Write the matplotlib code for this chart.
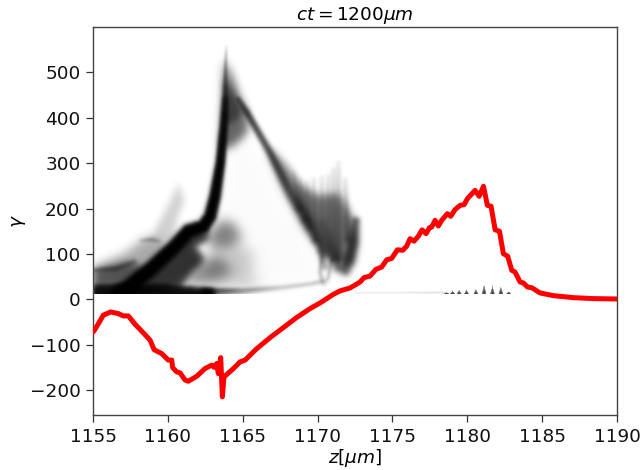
import numpy as np
import matplotlib
matplotlib.use("Agg")
import matplotlib.pyplot as plt
from matplotlib.path import Path

# Wakefield (red) curve
wake_z = [1155.0,1155.07,1155.36,1155.69,1156.18,1156.69,1157.03,1157.36,1157.81,1158.36,1158.81,1159.08,1159.37,1159.59,1160.03,1160.26,1160.32,1160.59,1160.81,1161.15,1161.37,1161.93,1162.48,1162.93,1163.09,1163.26,1163.37,1163.53,1163.64,1163.75,1164.38,1164.82,1165.16,1165.94,1166.83,1167.49,1168.61,1169.5,1170.17,1171.06,1171.5,1172.17,1172.84,1173.1,1173.5,1173.9,1174.28,1174.62,1174.95,1175.33,1175.69,1175.95,1176.18,1176.44,1176.73,1176.98,1177.25,1177.47,1177.62,1177.85,1178.07,1178.29,1178.67,1178.89,1179.18,1179.52,1179.79,1180.01,1180.52,1180.79,1181.08,1181.34,1181.59,1181.86,1182.15,1182.41,1182.7,1182.97,1183.19,1183.53,1183.75,1184.02,1184.31,1184.86,1185.75,1187.09,1188.43,1190.0]
wake_g = [-72,-69.8,-53.6,-35,-27.9,-31.5,-36.7,-36.7,-55,-74,-90,-110.9,-116,-119.7,-134,-134,-150.5,-160,-162,-178,-180.6,-169.6,-152.7,-145,-150,-141.6,-163.7,-128.5,-215,-171,-152.7,-138,-134,-108.7,-84.4,-68,-40,-20.5,-8,11,18.4,25,38,47.7,51,66,71,87,90,109,108,117,133.6,128,139,153,144.6,157.8,159,174,161.5,174,188.7,182.8,197.5,207,208.5,221.7,240,226.9,249,207,205,153,150,100.6,94.7,63.9,60,38,36,27,25.5,14,8,3.6,1.5,0.7]

# Ridges of the electron phase space: z, gamma, sigma (px), strength
ridge_main = ([1156.8,1157.34,1158.79,1160.35,1161.35,1162.35,1162.8,1163.13,1163.49,1163.75,1163.82],
              [12,25,64,112,148,159,181,225,299,390,440],[4.5,4,3.8,3.6,3.6,3.4,3.2,3,2.6,2.4,2.0],[3,3,3,3,3,3,2.8,2.6,2.2,1.5,1.0])
ridge_tip = ([1163.82,1163.85,1163.9],[450,525,558],[1.8,1,.6],[.6,.25,.07])
ridge_right = ([1164.7,1165.27,1166.83,1168.16,1169.28,1170.17,1170.5],
               [440,410,321,233,170,115,70],[1.6,2.2,2.4,3.2,3.6,3.2,2.5],[.35,.7,.6,.42,.38,.32,.2])
ridge_arc = ([1172.55,1172.39,1172.1,1171.84,1171.4,1171.0,1170.72,1170.3],
             [170,123,85,64,70,100,130,165],[3,3.5,4,4,4,4,4,4],[.45,.6,.65,.5,.35,.2,.12,.08])
ridge_loop = ([1170.28,1170.17,1170.4,1170.7,1170.95],[93,56,34,45,86],[1.5,1.5,2,1.5,1.5],[.22,.16,.12,.14,.16])
ridge_band = ([1162.5,1163.5,1165.0,1167.5,1169.5,1170.3],[15,16,17,24,32,38],[2.5,2.2,2,1.8,1.5,1.5],[1.0,.6,.28,.13,.13,.14])
ridge_band2 = ([1155.0,1156.5,1157.7],[62,66,80],[1.5,2,2],[.25,.3,.2])
ridge_hump = ([1158.2,1158.9,1159.4],[128,130,126],[1.5,1.5,1.5],[.1,.22,.1])
ridges = [ridge_main, ridge_tip, ridge_right, ridge_arc, ridge_loop, ridge_band, ridge_band2, ridge_hump]

# Fingers on the right-hand wing
finger_tip_z = [1168.39,1168.83,1169.28,1169.72,1170.28,1170.72,1171.06,1171.39,1171.84]
finger_tip_g = [277,262,255,262,266,269,284,299,262]
finger_base_z = [1168.8,1169.2,1169.5,1169.9,1170.3,1170.7,1171.1,1171.45,1172.0]
finger_base_g = [200,175,160,130,105,100,90,90,130]

# Filled regions: z, gamma, blur (px), strength
wedge = ([1163.82,1164.71,1165.15,1165.27,1164.93,1164.15,1163.6],[525,445,416,372,357,335,335],4.5,.55)
wedge2 = ([1163.82,1164.6,1164.9,1164.4,1163.7],[480,440,410,390,390],3,.3)
wing = ([1166.5,1167.94,1168.8,1170.0,1171.39,1172.3,1172.62,1172.3,1171.5,1170.9,1170.2,1169.05,1167.5],
        [340,290,250,225,230,180,125,80,65,85,110,160,260],4,.42)
core = ([1157.2,1158.8,1160.35,1161.35,1162.57,1162.68,1161.7,1162.35,1161.46,1160.8,1157.2],
        [23,60,108,144,148,134,115,86,60,27,11],3.5,.95)
strip = ([1155.0,1160.0,1163.0,1163.0,1155.0],[27,27,18,6,6],2.5,1.7)
left_dark = ([1155.0,1157.5,1158.6,1157.2,1155.0],[62,80,62,27,27],4,.42)
hump = ([1155.0,1157.2,1157.9,1158.8,1159.9,1160.35,1158.8,1157.3,1155.0],[68,100,120,137,122,112,64,27,27],5,.24)
blob = ([1162.9,1163.8,1164.6,1164.8,1163.9,1162.8],[148,174,152,130,115,119],6,.42)
fan = ([1162.8,1164.8,1165.7,1165.5,1166.4,1162.6],[119,119,97,49,27,27],7,.14)
fan_low = ([1161.4,1163.3,1164.3,1163.0,1161.3],[70,90,60,40,30],6,.34)
faint = ([1159.05,1160.2,1160.7,1161.05,1160.6,1160.35,1159.0],[145,215,255,215,180,130,130],3.5,.12)
speck = ([1164.15,1165.27,1167.27,1169.05,1170.17,1165.71,1163.71],[360,360,225,145,40,30,115],6,.01)
regions = [wedge, wedge2, wing, core, strip, left_dark, hump, blob, fan, fan_low, faint, speck]

# Witness bunches near gamma = 12
bunch_z = [1178.63,1179.03,1179.47,1179.96,1180.59,1181.14,1181.7,1182.26,1182.79]
bunch_top = [12,16,18,18,20,31,27,26,14]

ZMIN, ZMAX, GMIN, GMAX, GCUT = 1155.0, 1190.0, -255.0, 600.0, 11.0
NX, NY = 524, 268
PXZ, PXG = 524/35.0, 0.454
zc = np.linspace(ZMIN, ZMAX, NX)
gc = np.linspace(GCUT, GMAX, NY)
ZZ, GG = np.meshgrid(zc, gc)
density = np.zeros((NY, NX))

def blur(a, s):
    r = int(3*s)
    k = np.exp(-0.5*(np.arange(-r, r+1)/s)**2); k /= k.sum()
    pad = np.pad(a, r, mode="edge")
    pad = np.apply_along_axis(lambda m: np.convolve(m, k, "same"), 0, pad)
    pad = np.apply_along_axis(lambda m: np.convolve(m, k, "same"), 1, pad)
    return pad[r:-r, r:-r]

def add_ridge(z, g, sig, amp):
    t = np.arange(len(z))
    s = np.linspace(0, len(z)-1, 48*len(z))
    zs, gs, ss, aa = [np.interp(s, t, v) for v in (z, g, sig, amp)]
    f = np.zeros_like(density)
    for a, b, c, d in zip(zs, gs, ss, aa):
        f = np.maximum(f, d*np.exp(-0.5*((ZZ-a)*PXZ/c)**2 - 0.5*((GG-b)*PXG/c)**2))
    return f

for r in ridges:
    density += add_ridge(*r)

for i in range(len(finger_tip_z)):
    density += add_ridge([finger_tip_z[i], finger_base_z[i]],
                         [finger_tip_g[i], finger_base_g[i]],
                         [1.8, 3.0], [.05, .28])

for z, g, bl, amp in regions:
    inside = Path(np.column_stack([z, g])).contains_points(np.column_stack([ZZ.ravel(), GG.ravel()]))
    density += amp*blur(inside.reshape(ZZ.shape).astype(float), bl)

density = blur(density, 1.0)

for z0, top in zip(bunch_z, bunch_top):
    h = np.clip(1-(GG-GCUT)/(top-GCUT+2.0), 0, 1)
    w = 0.16*h + 1e-6
    density += (0.15+0.7*h)*np.clip(1-np.abs(ZZ-z0)/w, 0, 1)**0.5*(h > 0)
density += add_ridge([1172.5, 1175, 1178.5], [12.5, 13, 13], [.8, .8, .8], [.04, .04, .08])

shade = 1 - np.exp(-1.7*density)

fig = plt.figure(figsize=(6.44, 4.70), dpi=100)
ax = fig.add_axes([93/644, 1-415/470, 524/644, 388/470])
ax.imshow(shade, cmap="gray_r", vmin=0, vmax=1, origin="lower", aspect="auto",
          extent=[ZMIN, ZMAX, GCUT, GMAX], interpolation="bilinear", zorder=1)
ax.plot(wake_z, wake_g, color="red", lw=3.6, solid_joinstyle="round", zorder=3)
ax.set_xlim(ZMIN, ZMAX)
ax.set_ylim(GMIN, GMAX)
ax.set_xticks([1155, 1160, 1165, 1170, 1175, 1180, 1185, 1190])
ax.set_yticks([-200, -100, 0, 100, 200, 300, 400, 500])
ax.tick_params(labelsize=13.3, width=0.9, length=5, color="#333333", labelcolor="#111111", pad=4)
for s in ax.spines.values():
    s.set_linewidth(1.0); s.set_color("#444444")
ax.set_xlabel(r"$z[\mu m]$", fontsize=13.3, labelpad=1)
ax.set_ylabel(r"$\gamma$", fontsize=13.3, labelpad=1)
ax.set_title(r"$ct=1200\mu m$", fontsize=13.3, pad=5)
fig.savefig("out.png", dpi=100)
